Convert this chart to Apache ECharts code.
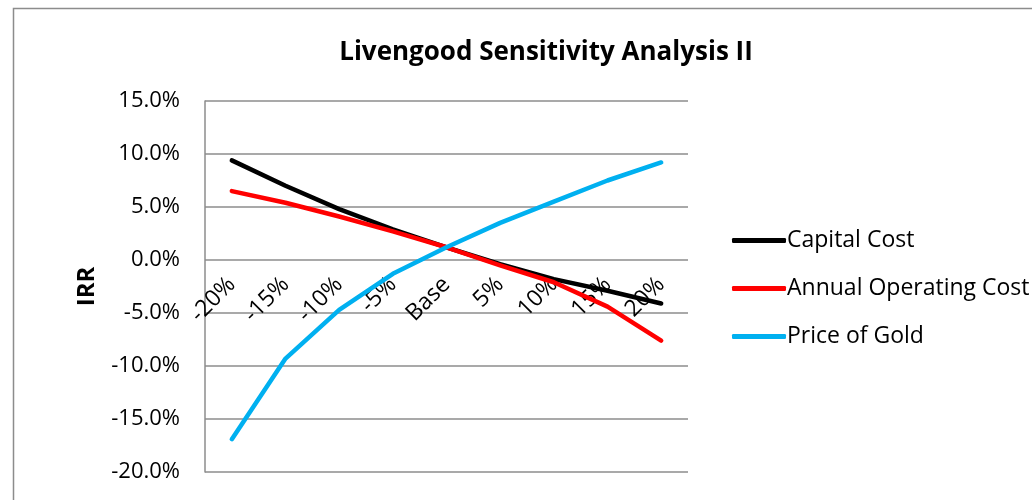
<!DOCTYPE html>
<html>
<head>
<meta charset="utf-8">
<script src="https://cdn.jsdelivr.net/npm/echarts@6/dist/echarts.min.js"></script>
<style>
  html, body { margin: 0; padding: 0; background: #fff; }
  #chart { width: 1032px; height: 500px; }
</style>
</head>
<body>
<div id="chart"></div>
<script>
// Sensitivity steps on the horizontal axis
const categories = ['-20%', '-15%', '-10%', '-5%', 'Base', '5%', '10%', '15%', '20%'];
// IRR (%) for each sensitivity case
const capitalCost = [9.4, 7.0, 4.8, 2.9, 1.2, -0.4, -1.8, -2.9, -4.1];
const operatingCost = [6.5, 5.4, 4.1, 2.7, 1.2, -0.5, -2.1, -4.4, -7.6];
const goldPrice = [-16.9, -9.3, -4.7, -1.3, 1.2, 3.5, 5.5, 7.5, 9.2];
const yTicks = { min: -20, max: 15, interval: 5 };

const font = '"Open Sans", Lato, sans-serif';

// Category axis sits on the 0% line: lift it from the plot bottom by the
// share of the value range that lies below zero.
const plotHeight = 500 - 101 - 28;
const zeroLift = plotHeight * (0 - yTicks.min) / (yTicks.max - yTicks.min);

function lineSeries(name, data, color) {
  return {
    name: name,
    type: 'line',
    data: data,
    symbol: 'none',
    smooth: false,
    lineStyle: { color: color, width: 4.5, cap: 'round', join: 'round' },
    itemStyle: { color: color }
  };
}

const chart = echarts.init(document.getElementById('chart'), null, { renderer: 'canvas' });
chart.setOption({
  animation: false,
  backgroundColor: '#fff',
  graphic: [{
    type: 'rect',
    shape: { x: 13.5, y: 8.5, width: 1040, height: 520 },
    style: { fill: 'none', stroke: '#8c8c8c', lineWidth: 1.5 },
    silent: true
  }],
  title: {
    text: 'Livengood Sensitivity Analysis II',
    left: 541, top: 35, textAlign: 'center',
    textStyle: { fontFamily: font, fontWeight: 'bold', fontSize: 26, color: '#000' }
  },
  legend: {
    orient: 'vertical',
    left: 727, top: 224,
    itemWidth: 54, itemHeight: 5, itemGap: 25,
    icon: 'roundRect',
    textStyle: { fontFamily: font, fontSize: 23, color: '#000', padding: [0, 0, 0, -4] },
    data: ['Capital Cost', 'Annual Operating Cost', 'Price of Gold']
  },
  grid: { left: 205, right: 344, top: 101, bottom: 28, outerBoundsMode: 'none', containLabel: false },
  xAxis: {
    type: 'category',
    data: categories,
    boundaryGap: true,
    position: 'bottom',
    offset: -zeroLift,
    axisLine: { show: false, onZero: false },
    axisTick: { show: false },
    axisLabel: {
      rotate: 45, margin: 21, interval: 0,
      fontFamily: font, fontSize: 23, color: '#000'
    }
  },
  yAxis: {
    type: 'value',
    min: yTicks.min, max: yTicks.max, interval: yTicks.interval,
    name: 'IRR',
    nameLocation: 'middle',
    nameGap: 106,
    nameRotate: 90,
    nameTextStyle: { fontFamily: font, fontWeight: 'bold', fontSize: 24, color: '#000' },
    axisLine: { show: true, lineStyle: { color: '#8c8c8c', width: 1.5 } },
    axisTick: { show: false },
    splitLine: { lineStyle: { color: '#8c8c8c', width: 1.5 } },
    axisLabel: {
      margin: 25,
      fontFamily: font, fontSize: 22, color: '#000',
      formatter: v => v.toFixed(1) + '%'
    }
  },
  series: [
    lineSeries('Capital Cost', capitalCost, '#000000'),
    lineSeries('Annual Operating Cost', operatingCost, '#ff0000'),
    lineSeries('Price of Gold', goldPrice, '#00b0f0')
  ]
});
</script>
</body>
</html>
